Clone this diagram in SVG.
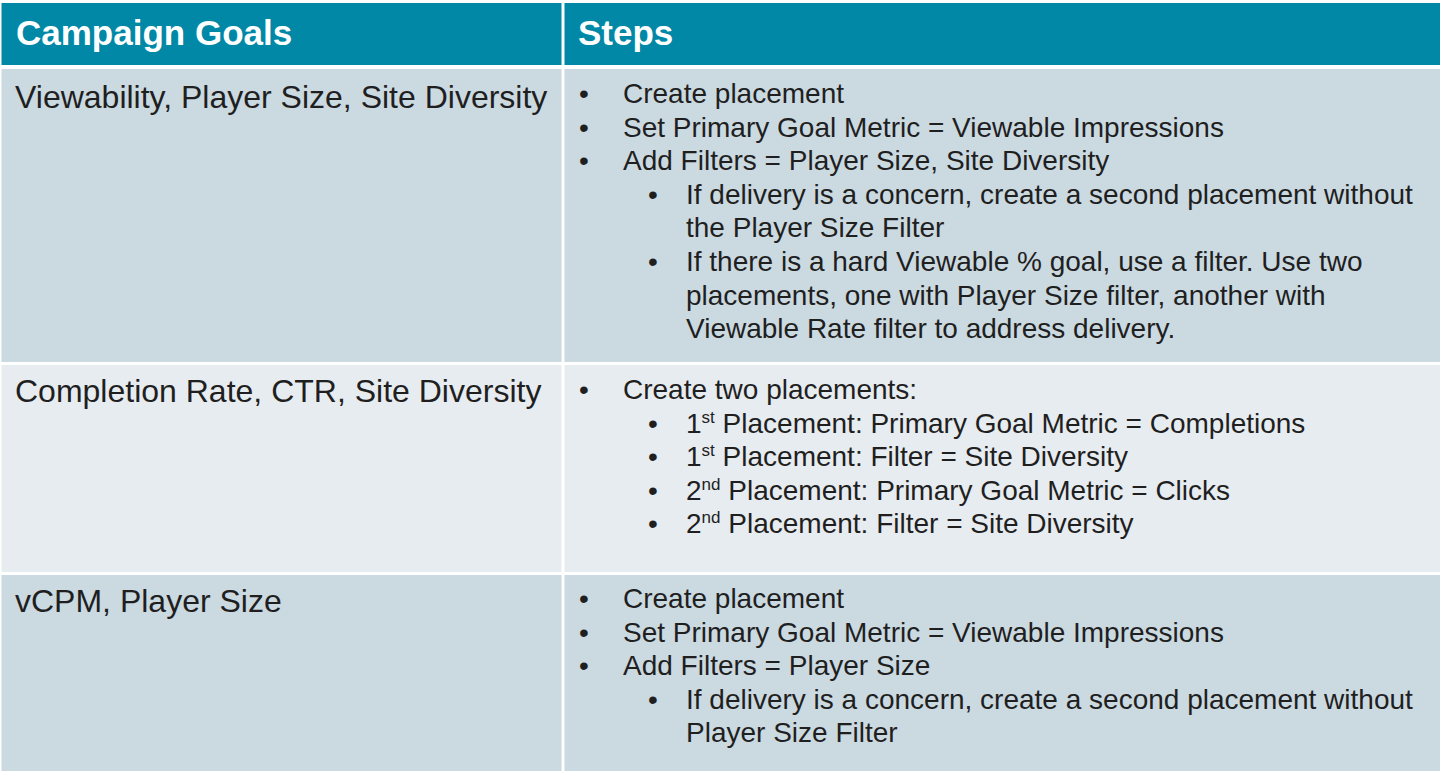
<svg xmlns="http://www.w3.org/2000/svg" width="1440" height="771" viewBox="0 0 1440 771">
<style>
.hd{fill:#0088A6}
.dk{fill:#CBD9E1}
.lt{fill:#E7ECF0}
.ht{font-family:"Liberation Sans",Arial,sans-serif;font-size:35px;font-weight:bold;fill:#FFFFFF}
.gt{font-family:"Liberation Sans",Arial,sans-serif;font-size:32px;fill:#1F1F1F}
.bt{font-family:"Liberation Sans",Arial,sans-serif;font-size:28px;fill:#1F1F1F}
.sup{font-size:17px}
</style>
<rect x="0" y="0" width="1440" height="771" fill="#FFFFFF"/>
<g id="header">
<rect class="hd" x="1.5" y="3" width="560" height="62"/>
<rect class="hd" x="564.5" y="3" width="875.5" height="62"/>
<text class="ht" x="16" y="45">Campaign Goals</text>
<text class="ht" x="578" y="45">Steps</text>
</g>
<g id="row1">
<rect class="dk" x="1.5" y="69" width="560" height="293"/>
<rect class="dk" x="564.5" y="69" width="875.5" height="293"/>
<text class="gt" x="15" y="108">Viewability, Player Size, Site Diversity</text>
<text class="bt" x="579" y="103">•</text><text class="bt" x="623" y="103">Create placement</text>
<text class="bt" x="579" y="136.6">•</text><text class="bt" x="623" y="136.6">Set Primary Goal Metric = Viewable Impressions</text>
<text class="bt" x="579" y="170.2">•</text><text class="bt" x="623" y="170.2">Add Filters = Player Size, Site Diversity</text>
<text class="bt" x="648" y="203.8">•</text><text class="bt" x="686" y="203.8">If delivery is a concern, create a second placement without</text>
<text class="bt" x="686" y="237.4">the Player Size Filter</text>
<text class="bt" x="648" y="271">•</text><text class="bt" x="686" y="271">If there is a hard Viewable % goal, use a filter. Use two</text>
<text class="bt" x="686" y="304.6">placements, one with Player Size filter, another with</text>
<text class="bt" x="686" y="338.2">Viewable Rate filter to address delivery.</text>
</g>
<g id="row2">
<rect class="lt" x="1.5" y="365" width="560" height="207"/>
<rect class="lt" x="564.5" y="365" width="875.5" height="207"/>
<text class="gt" x="15" y="401.5">Completion Rate, CTR, Site Diversity</text>
<text class="bt" x="579" y="399">•</text><text class="bt" x="623" y="399">Create two placements:</text>
<text class="bt" x="648" y="432.6">•</text><text class="bt" x="686" y="432.6">1<tspan class="sup" dy="-10">st</tspan><tspan dy="10"> Placement: Primary Goal Metric = Completions</tspan></text>
<text class="bt" x="648" y="466.2">•</text><text class="bt" x="686" y="466.2">1<tspan class="sup" dy="-10">st</tspan><tspan dy="10"> Placement: Filter = Site Diversity</tspan></text>
<text class="bt" x="648" y="499.8">•</text><text class="bt" x="686" y="499.8">2<tspan class="sup" dy="-10">nd</tspan><tspan dy="10"> Placement: Primary Goal Metric = Clicks</tspan></text>
<text class="bt" x="648" y="533.4">•</text><text class="bt" x="686" y="533.4">2<tspan class="sup" dy="-10">nd</tspan><tspan dy="10"> Placement: Filter = Site Diversity</tspan></text>
</g>
<g id="row3">
<rect class="dk" x="1.5" y="575" width="560" height="196"/>
<rect class="dk" x="564.5" y="575" width="875.5" height="196"/>
<text class="gt" x="15" y="611.5">vCPM, Player Size</text>
<text class="bt" x="579" y="608">•</text><text class="bt" x="623" y="608">Create placement</text>
<text class="bt" x="579" y="641.6">•</text><text class="bt" x="623" y="641.6">Set Primary Goal Metric = Viewable Impressions</text>
<text class="bt" x="579" y="675.2">•</text><text class="bt" x="623" y="675.2">Add Filters = Player Size</text>
<text class="bt" x="648" y="708.8">•</text><text class="bt" x="686" y="708.8">If delivery is a concern, create a second placement without</text>
<text class="bt" x="686" y="742.4">Player Size Filter</text>
</g>
</svg>
